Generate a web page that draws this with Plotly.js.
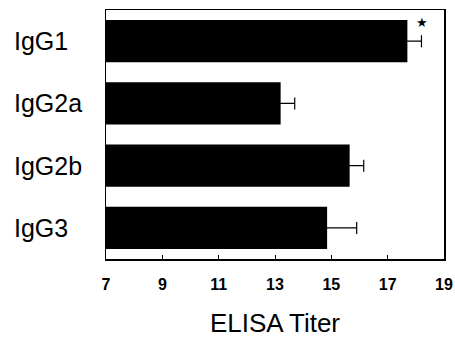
<!DOCTYPE html>
<html><head><meta charset="utf-8">
<script src="https://cdn.plot.ly/plotly-3.0.1.min.js"></script>
<style>html,body{margin:0;padding:0;background:#fff}#c{width:455px;height:343px}</style>
</head><body><div id="c"></div>
<script>
const categories = ["IgG1", "IgG2a", "IgG2b", "IgG3"];
const titers = [17.7, 13.2, 15.65, 14.85];
const errors = [0.5, 0.5, 0.5, 1.05];
const tickVals = [7, 9, 11, 13, 15, 17, 19];
const tickText = ["7", "9", "11", "13", "15", "17", "19"];
const starCategory = "IgG1";

const trace = {
  type: "bar", orientation: "h",
  y: categories, x: titers, base: 0,
  marker: {color: "#000", line: {width: 0}},
  error_x: {type: "data", array: errors, symmetric: true, color: "#000", thickness: 1.2, width: 6},
  width: 0.68, hoverinfo: "skip"
};

const annotations = categories.map(c => ({
  xref: "paper", yref: "y", x: -0.278, y: c, xanchor: "left", yanchor: "middle",
  text: c, showarrow: false, font: {family: "Liberation Sans, Arial", size: 25, color: "#000"}
}));
const si = categories.indexOf(starCategory);
annotations.push({
  xref: "x", yref: "y", x: titers[si] + errors[si], y: starCategory, yshift: 19, xshift: 1,
  text: "★", showarrow: false, font: {size: 13, color: "#000"}
});

const layout = {
  width: 455, height: 343,
  margin: {l: 106, r: 11, t: 10, b: 84},
  paper_bgcolor: "#fff", plot_bgcolor: "#fff",
  showlegend: false,
  xaxis: {
    range: [7, 19], tickvals: tickVals, ticktext: tickText,
    ticks: "inside", ticklen: 4, tickwidth: 1, tickcolor: "#000",
    showgrid: false, zeroline: false,
    showline: true, linecolor: "#000", linewidth: 1.5, mirror: true,
    tickfont: {family: "Liberation Sans Narrow, Arial Narrow, Liberation Sans", size: 16, color: "#000", weight: "bold"},
    ticklabelstandoff: 10,
    title: {text: "ELISA Titer", font: {family: "Liberation Sans, Arial", size: 26, color: "#000"}, standoff: 22}
  },
  yaxis: {
    type: "category", categoryorder: "array", categoryarray: categories,
    autorange: false, range: [3.5, -0.5],
    showticklabels: false, ticks: "", showgrid: false, zeroline: false,
    showline: true, linecolor: "#000", linewidth: 1.5, mirror: true
  },
  annotations: annotations
};
Plotly.newPlot("c", [trace], layout, {staticPlot: true, displayModeBar: false});
</script></body></html>
